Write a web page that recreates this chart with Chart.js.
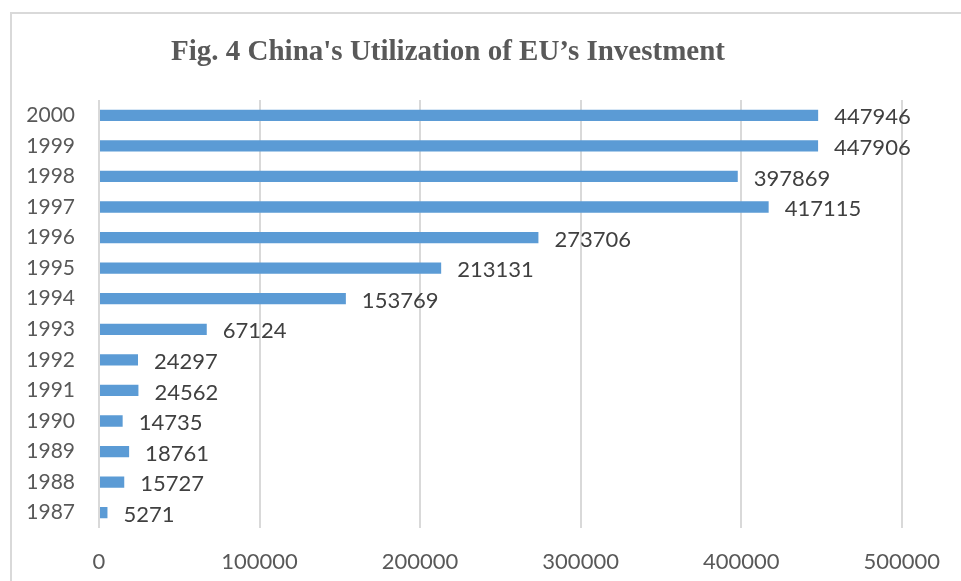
<!DOCTYPE html>
<html>
<head>
<meta charset="utf-8">
<script src="https://cdn.jsdelivr.net/npm/chart.js@4/dist/chart.umd.min.js"></script>
<style>
html,body{margin:0;padding:0;background:#fff;}
#wrap{position:relative;width:961px;height:581px;}
</style>
</head>
<body>
<div id="wrap"><canvas id="c" width="961" height="581"></canvas></div>
<script>
const titleText = "Fig. 4 China's Utilization of EU’s Investment";
const years = ["1987","1988","1989","1990","1991","1992","1993","1994","1995","1996","1997","1998","1999","2000"];
const investment = [5271,15727,18761,14735,24562,24297,67124,153769,213131,273706,417115,397869,447906,447946];
const xTicks = [0,100000,200000,300000,400000,500000];

const frameAndTitle = {
  id: 'frameAndTitle',
  beforeDraw(chart) {
    const ctx = chart.ctx;
    ctx.save();
    ctx.fillStyle = '#ffffff';
    ctx.fillRect(0, 0, chart.width, chart.height);
    ctx.strokeStyle = '#d9d9d9';
    ctx.lineWidth = 2;
    ctx.strokeRect(11, 13, chart.width + 10, chart.height + 10);
    ctx.restore();
  },
  afterDraw(chart) {
    const ctx = chart.ctx;
    ctx.save();
    ctx.font = 'bold 29px "Liberation Serif", "Times New Roman", serif';
    ctx.fillStyle = '#595959';
    ctx.textAlign = 'center';
    ctx.textBaseline = 'middle';
    ctx.fillText(titleText, 448, 53);
    ctx.restore();
  }
};

const valueLabels = {
  id: 'valueLabels',
  afterDatasetsDraw(chart) {
    const ctx = chart.ctx;
    const meta = chart.getDatasetMeta(0);
    ctx.save();
    ctx.font = '22px Lato, "Open Sans", sans-serif';
    ctx.fillStyle = '#404040';
    ctx.textAlign = 'left';
    ctx.textBaseline = 'middle';
    meta.data.forEach((bar, i) => {
      ctx.fillText(String(chart.data.datasets[0].data[i]), bar.x + 16, bar.y + 2);
    });
    ctx.restore();
  }
};

new Chart(document.getElementById('c'), {
  type: 'bar',
  data: {
    labels: years,
    datasets: [{
      data: investment,
      backgroundColor: '#5b9bd5',
      borderWidth: 0,
      categoryPercentage: 1,
      barPercentage: 0.37
    }]
  },
  options: {
    indexAxis: 'y',
    responsive: false,
    animation: false,
    layout: { padding: { left: 0, right: 50, top: 100, bottom: 0 } },
    plugins: {
      legend: { display: false },
      title: { display: false },
      tooltip: { enabled: false }
    },
    scales: {
      x: {
        min: 0,
        max: 500000,
        afterBuildTicks(scale) { scale.ticks = xTicks.map(v => ({ value: v })); },
        afterFit(scale) { scale.height = 53; },
        grid: { color: '#d9d9d9', lineWidth: 2, drawTicks: false },
        border: { display: false },
        ticks: {
          padding: 21,
          color: '#595959',
          font: { family: 'Lato, "Open Sans", sans-serif', size: 22 },
          maxRotation: 0,
          autoSkip: false,
          callback: (v) => String(v)
        }
      },
      y: {
        reverse: true,
        afterFit(scale) { scale.width = 99; },
        grid: { display: false, drawTicks: false },
        border: { display: false },
        ticks: {
          padding: 24,
          color: '#595959',
          font: { family: 'Lato, "Open Sans", sans-serif', size: 21 },
          autoSkip: false
        }
      }
    }
  },
  plugins: [frameAndTitle, valueLabels]
});
</script>
</body>
</html>
